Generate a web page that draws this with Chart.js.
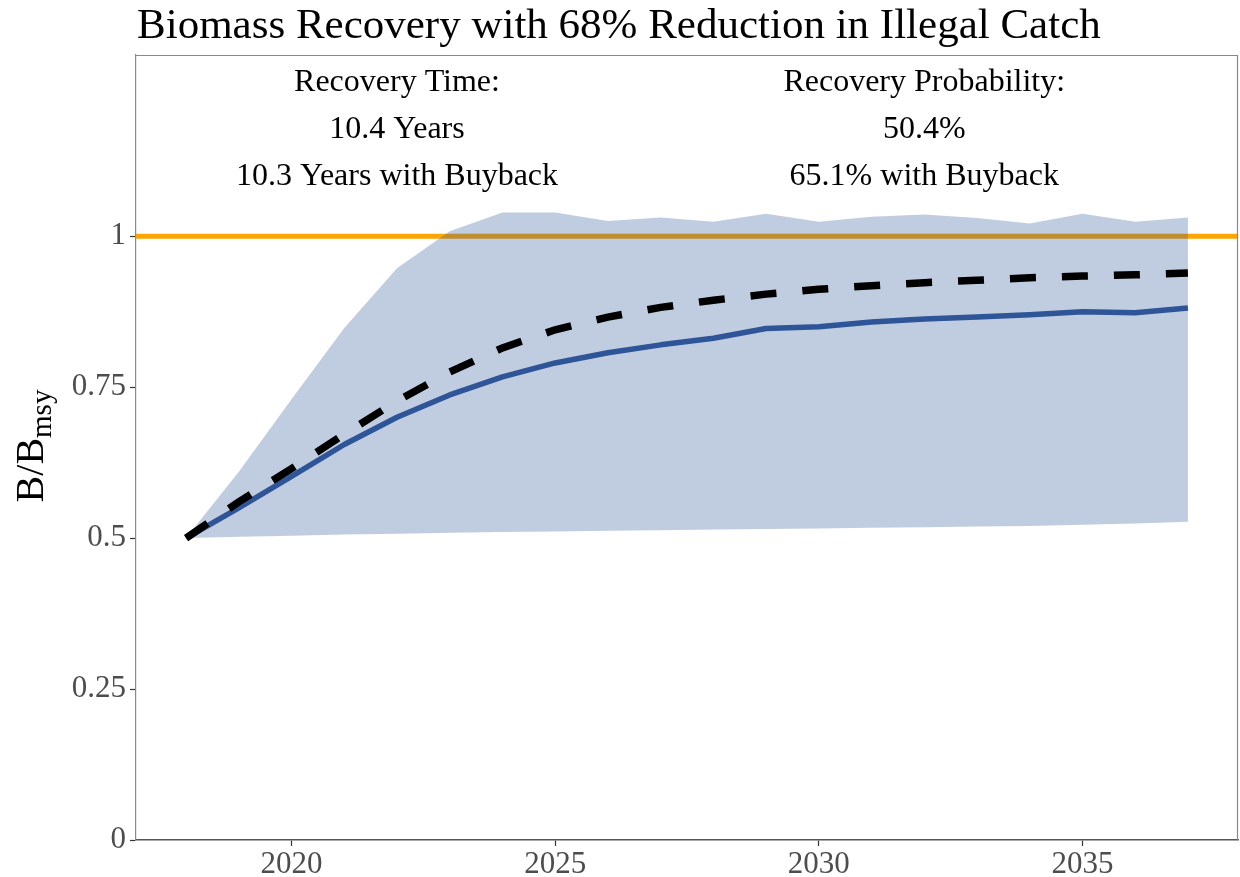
<!DOCTYPE html>
<html>
<head>
<meta charset="utf-8">
<script src="https://cdn.jsdelivr.net/npm/chart.js@4/dist/chart.umd.min.js"></script>
<style>
  body { margin: 0; background: #fff; }
  canvas { display: block; }
</style>
</head>
<body>
<canvas id="myChart" width="1240" height="877"></canvas>
<script>
// data
var years = [2018, 2019, 2020, 2021, 2022, 2023, 2024, 2025, 2026, 2027,
             2028, 2029, 2030, 2031, 2032, 2033, 2034, 2035, 2036, 2037];
var median = [0.500, 0.550, 0.602, 0.655, 0.700, 0.737, 0.767, 0.790, 0.807, 0.820,
              0.831, 0.847, 0.850, 0.858, 0.863, 0.866, 0.870, 0.875, 0.873, 0.881];
var buyback = [0.500, 0.560, 0.615, 0.672, 0.727, 0.775, 0.815, 0.845, 0.866, 0.882,
               0.894, 0.904, 0.912, 0.918, 0.923, 0.927, 0.931, 0.934, 0.936, 0.939];
var upper = [0.500, 0.610, 0.730, 0.848, 0.947, 1.008, 1.039, 1.039, 1.025, 1.031,
             1.024, 1.037, 1.024, 1.032, 1.036, 1.030, 1.021, 1.037, 1.024, 1.031];
var lower = [0.500, 0.502, 0.504, 0.506, 0.507, 0.509, 0.510, 0.511, 0.512, 0.513,
             0.514, 0.515, 0.516, 0.517, 0.518, 0.519, 0.520, 0.522, 0.524, 0.527];
var target = 1;
var xRange = [2017.05, 2037.95];
var yRange = [0, 1.3];
var xTicks = [2020, 2025, 2030, 2035];
var yTicks = [0, 0.25, 0.5, 0.75, 1];
var yTickLabels = ['0', '0.25', '0.5', '0.75', '1'];
var titleText = 'Biomass Recovery with 68% Reduction in Illegal Catch';
var notes = [
  { x: 2022, lines: ['Recovery Time:', '10.4 Years', '10.3 Years with Buyback'] },
  { x: 2032, lines: ['Recovery Probability:', '50.4%', '65.1% with Buyback'] }
];
var noteY = [1.255, 1.177, 1.099];

var serif = '"Liberation Serif", "Times New Roman", serif';

function pts(vals) {
  return years.map(function(yr, i) { return { x: yr, y: vals[i] }; });
}

// title, y axis title, text notes, panel border
var decor = {
  id: 'decor',
  afterDraw: function(chart) {
    var c = chart.ctx, a = chart.chartArea;
    var xs = chart.scales.x, ys = chart.scales.y;
    c.save();
    // panel border top/right
    c.strokeStyle = '#8a8a8a';
    c.lineWidth = 1.2;
    c.beginPath();
    c.moveTo(a.left, a.top + 0.5);
    c.lineTo(a.right - 0.5, a.top + 0.5);
    c.lineTo(a.right - 0.5, a.bottom);
    c.stroke();

    // title
    c.fillStyle = '#000';
    c.font = '43px ' + serif;
    c.textAlign = 'left';
    c.textBaseline = 'alphabetic';
    c.fillText(titleText, 137, 38);

    // notes
    c.font = '32px ' + serif;
    c.textAlign = 'center';
    c.textBaseline = 'middle';
    notes.forEach(function(n) {
      n.lines.forEach(function(t, i) {
        c.fillText(t, xs.getPixelForValue(n.x), ys.getPixelForValue(noteY[i]));
      });
    });

    // y axis title B/B_msy
    c.translate(43, 446);
    c.rotate(-Math.PI / 2);
    c.textAlign = 'left';
    c.textBaseline = 'alphabetic';
    var main = 'B/B';
    c.font = '40px ' + serif;
    var w1 = c.measureText(main).width;
    c.font = '29px ' + serif;
    var w2 = c.measureText('msy').width;
    var x0 = -(w1 + w2) / 2;
    c.font = '40px ' + serif;
    c.fillText(main, x0, 0);
    c.font = '29px ' + serif;
    c.fillText('msy', x0 + w1, 8);
    c.restore();
  }
};

var ctx = document.getElementById('myChart').getContext('2d');
var chart = new Chart(ctx, {
  type: 'line',
  data: {
    datasets: [
      {
        label: 'target',
        data: [{ x: xRange[0], y: target }, { x: xRange[1], y: target }],
        borderColor: '#FFA500',
        borderWidth: 5,
        pointRadius: 0,
        fill: false,
        order: 5
      },
      {
        label: 'upper',
        data: pts(upper),
        borderWidth: 0,
        borderColor: 'rgba(0,0,0,0)',
        backgroundColor: 'rgba(46, 85, 151, 0.3)',
        pointRadius: 0,
        fill: '+1',
        order: 4
      },
      {
        label: 'lower',
        data: pts(lower),
        borderWidth: 0,
        borderColor: 'rgba(0,0,0,0)',
        pointRadius: 0,
        fill: false,
        order: 4
      },
      {
        label: 'Median',
        data: pts(median),
        borderColor: 'rgb(46, 85, 151)',
        borderWidth: 5.5,
        borderJoinStyle: 'round',
        pointRadius: 0,
        fill: false,
        order: 2
      },
      {
        label: 'Buyback',
        data: pts(buyback),
        borderColor: '#000',
        borderWidth: 7.5,
        borderDash: [26, 26],
        pointRadius: 0,
        fill: false,
        order: 1
      }
    ]
  },
  options: {
    responsive: false,
    devicePixelRatio: 1,
    animation: false,
    layout: { padding: { left: 0, right: 2, top: 55, bottom: 0 } },
    plugins: {
      legend: { display: false },
      tooltip: { enabled: false },
      title: { display: false }
    },
    scales: {
      x: {
        type: 'linear',
        min: xRange[0],
        max: xRange[1],
        afterBuildTicks: function(s) { s.ticks = xTicks.map(function(v) { return { value: v }; }); },
        afterFit: function(s) { s.height = 37; },
        ticks: {
          color: '#4D4D4D',
          font: { family: serif, size: 31 },
          padding: 0,
          maxRotation: 0,
          callback: function(v) { return String(v); }
        },
        grid: { drawOnChartArea: false, drawTicks: true, tickLength: 6, tickColor: '#333', tickWidth: 1.2 },
        border: { display: true, color: '#555', width: 1.5 }
      },
      y: {
        type: 'linear',
        min: yRange[0],
        max: yRange[1],
        afterBuildTicks: function(s) { s.ticks = yTicks.map(function(v) { return { value: v }; }); },
        afterFit: function(s) { s.width = 136; },
        ticks: {
          color: '#4D4D4D',
          font: { family: serif, size: 31 },
          padding: 4,
          callback: function(v) {
            var i = yTicks.indexOf(v);
            return i >= 0 ? yTickLabels[i] : '';
          }
        },
        grid: { drawOnChartArea: false, drawTicks: true, tickLength: 6, tickColor: '#333', tickWidth: 1.2 },
        border: { display: true, color: '#8a8a8a', width: 1.2 }
      }
    }
  },
  plugins: [decor]
});
</script>
</body>
</html>
